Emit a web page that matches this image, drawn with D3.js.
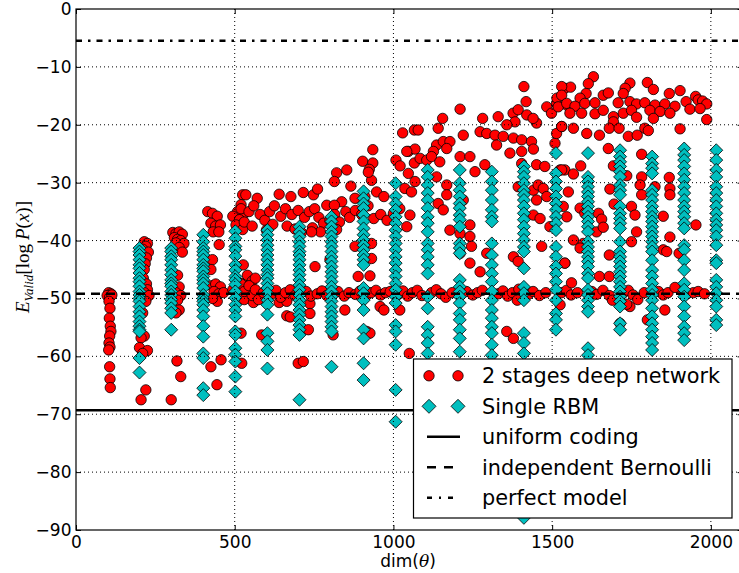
<!DOCTYPE html>
<html>
<head>
<meta charset="utf-8">
<script src="https://cdn.jsdelivr.net/npm/d3@7"></script>
<style>
  html, body { margin: 0; padding: 0; background: #fff; }
  svg { display: block; }
  text { font-family: "DejaVu Sans", sans-serif; }
</style>
</head>
<body>
<div id="chart"></div>
<script>
// reference lines
var uniformCoding = -69.3;
var independentBernoulli = -49.2;
var perfectModel = -5.5;

var xTicks = [0, 500, 1000, 1500, 2000];
var yTicks = [0, -10, -20, -30, -40, -50, -60, -70, -80, -90];

var legendLabels = ['2 stages deep network', 'Single RBM', 'uniform coding', 'independent Bernoulli', 'perfect model'];

// Single RBM: one column of results per dim(theta)
var rbmDims = [200, 300, 401, 502, 603, 704, 805, 906, 1007, 1108, 1209, 1310, 1411, 1512, 1613, 1714, 1815, 1916, 2017];
var rbmVals = [
  [-41.3, -41.9, -42.5, -43.3, -44.2, -44.8, -45.6, -46.5, -47.1, -47.9, -48.8, -49.4, -50, -50.5, -51.4, -52.3, -53.1, -54, -54.8, -55.4, -55.7, -60.3, -62.8],
  [-41.3, -41.9, -42.7, -43.3, -44.2, -45.1, -45.9, -46.8, -47.4, -47.9, -48.8, -49.4, -50.2, -50.8, -51.7, -52.5, -55.4],
  [-39, -40.2, -41.3, -41.9, -42.5, -43.3, -44.2, -44.8, -45.3, -46.2, -46.8, -47.4, -48.2, -49.4, -50, -50.5, -51.1, -52, -53.1, -54.8, -56.6, -59.5, -60.3, -65.5, -66.7],
  [-38.4, -39.6, -41, -41.6, -42.7, -44.2, -45.1, -46.2, -46.8, -47.6, -48.8, -49.9, -51.1, -52, -53.1, -55.7, -56.3, -58.6, -59.7, -60.9, -63.5, -66.1],
  [-38.2, -39, -39.9, -40.8, -41.6, -42.5, -43.3, -44.2, -45.1, -45.9, -46.5, -47.4, -48.2, -49.1, -50.3, -51.1, -52.8, -56, -57.4, -58.9, -62.1],
  [-37.6, -38.5, -39.3, -40.2, -41, -41.9, -42.5, -43.3, -44.2, -45.1, -45.9, -46.8, -47.7, -48.5, -49.4, -50.3, -51.1, -52, -52.8, -53.7, -54.6, -55.4, -56.3, -67.5],
  [-35.9, -36.7, -37.6, -38.5, -39.3, -40.2, -41, -41.9, -42.8, -43.6, -44.5, -45.4, -46.2, -47.1, -48, -48.8, -49.7, -50.5, -51.4, -52.3, -53.1, -54, -54.9, -55.7, -61.8],
  [-31.5, -32.7, -33.6, -34.4, -35.6, -36.7, -37.9, -39, -39.9, -40.8, -41.6, -42.5, -43.3, -44.2, -48.2, -49.1, -50.3, -52, -55.4, -56.9, -61.2, -64.1],
  [-30.1, -32.4, -33.6, -34.7, -35.9, -37, -38.2, -39.3, -40.5, -41.6, -42.8, -43.9, -45.1, -46.2, -47.4, -48.5, -49.7, -50.8, -54.6, -55.7, -58, -65.8, -71.3],
  [-27.8, -29, -30.4, -31.8, -33, -34.4, -35.9, -37, -38.5, -40.5, -41.6, -42.8, -44.2, -45.7, -49.7, -51.7, -54.9, -56.3, -57.7, -59.5],
  [-27.8, -30.1, -31.3, -32.4, -33.6, -34.4, -35.6, -36.4, -37.6, -40.5, -41.3, -42.2, -46.8, -48, -48.8, -49.7, -50.8, -52.6, -53.7, -55.4, -56.9, -59.2],
  [-28.1, -29.8, -31.3, -33, -34.7, -35.9, -36.7, -40.5, -42.5, -44.2, -45.7, -47.1, -48.8, -50.3, -52, -53.4, -54.9, -56, -58, -59.8],
  [-27.2, -28.1, -29, -30.1, -31.3, -32.1, -33, -34.1, -35.3, -36.4, -37.6, -38.8, -39.9, -41.1, -41.9, -44.8, -48, -49.1, -50.3, -56, -57.7, -59.5, -87.9],
  [-24.9, -28.4, -29.8, -31, -32.4, -33.6, -34.7, -35.9, -37, -38.2, -41.1, -42.8, -44.5, -45.7, -47.1, -48.5, -50.3, -52.6, -53.7, -55.4],
  [-24.9, -29, -29.8, -30.7, -31.6, -32.4, -33.3, -34.1, -35, -35.9, -36.7, -37.6, -38.5, -40.2, -41.1, -41.9, -42.8, -43.6, -44.5, -45.7, -46.5, -48.5, -49.4, -50.3, -51.4, -52.3, -58.6, -59.8],
  [-24.4, -25.5, -26.4, -27.2, -28.1, -29, -30.4, -31.3, -32.1, -34.1, -35.3, -36.2, -37, -37.9, -40.2, -41.9, -42.8, -43.6, -44.5, -45.4, -46.2, -47.1, -48, -48.8, -49.7, -50.5, -51.4, -54.3, -55.4],
  [-25.5, -26.7, -27.5, -28.4, -31.3, -32.1, -33, -34.1, -35, -35.9, -36.7, -37.6, -38.5, -39.3, -40.2, -41.1, -41.9, -43.4, -45.1, -46.2, -47.4, -48.5, -49.4, -50.3, -51.7, -53.1, -54.3, -55.4, -56.6, -57.7, -58.9],
  [-24.1, -25.2, -26.1, -27.2, -28.4, -29.5, -30.7, -31.8, -33, -34.1, -35, -35.9, -37, -37.9, -40.8, -41.6, -43.4, -45.1, -47.4, -48.5, -49.7, -51.4, -53.1, -54.9, -56, -57.2],
  [-24.4, -26.1, -27.8, -29, -30.7, -31.8, -33, -34.1, -35.3, -36.4, -37.3, -38.2, -39.3, -40.8, -43.4, -43.9, -46.8, -48, -49.1, -50.3, -51.4, -53.7, -54.6]
];

// 2 stages deep network: [dim(theta), E_valid]
var deepPoints = [
  // ~100
  [103, -49.0], [110, -49.2], [98, -49.5], [106, -49.8], [113, -49.4], [104, -50.5], [107, -51.7], [105, -53.4], [108, -54.8],
  [110, -55.7], [106, -56.5], [104, -57.7], [107, -58.4], [103, -58.9], [106, -61.8], [107, -63.9], [108, -65.4],
  // ~200
  [215, -40.2], [225, -40.5], [220, -41], [210, -41.5], [228, -42], [222, -43], [218, -44], [215, -45], [212, -46.5], [222, -47.5],
  [225, -48.5], [215, -49], [230, -49.5], [220, -50.5], [210, -52.5], [215, -56.5], [205, -56.8], [200, -58.5], [225, -59],
  [210, -59.5], [220, -65.8], [205, -67.5],
  // ~300
  [305, -38.6], [315, -38.8], [325, -38.5], [335, -38.9], [310, -39.5], [320, -39.8], [330, -40], [315, -40.4], [340, -40.5],
  [325, -41.2], [335, -42], [320, -46], [325, -48], [315, -49], [330, -49.5], [320, -50.3], [325, -52], [315, -52.5],
  [318, -60.8], [330, -63.5], [300, -67.5],
  // ~400
  [415, -35], [430, -35.3], [445, -35.8], [425, -37], [440, -37.5], [455, -37.3], [432, -38.5], [450, -38.5], [451, -40.7],
  [430, -43.3], [425, -45], [428, -47.8], [440, -47.5], [455, -48], [435, -48.8], [450, -49.2], [465, -49], [445, -50.5],
  [430, -50], [494, -48.5], [425, -61.8], [457, -60.6], [444, -64.9],
  // ~500
  [525, -32.1], [520, -33.8], [509, -35], [530, -35.3], [494, -35.8], [515, -36.4], [504, -37.3], [525, -38.1],
  [525, -47.4], [515, -48.5], [530, -50.2], [520, -56], [522, -61.2],
  // 500 - 1050
  [935, -24.3], [903, -26.3], [935, -26.6], [853, -27.8], [924, -27.7], [821, -28.3], [866, -30.6], [814, -29.8], [931, -29.6], [921, -28.2],
  [535, -32.1], [571, -32.7], [640, -32], [677, -32.4], [716, -31.7], [748, -32.1], [761, -31.1], [837, -33.3], [879, -32.7],
  [910, -32.4], [947, -31.6], [970, -32.4],
  [520, -34.5], [545, -35], [560, -34], [580, -35.5], [595, -36.5], [610, -35], [625, -34], [645, -35.8], [660, -34.5],
  [680, -35.5], [700, -34.8], [720, -36], [735, -35], [752, -34.5], [765, -36], [780, -37], [790, -33.9], [814, -33.9],
  [530, -36.8], [555, -37.5], [600, -38.2], [620, -37.2], [665, -37.5], [690, -38], [710, -38.6], [745, -37.8], [770, -38.5],
  [800, -36.5], [815, -35.5], [830, -36.8], [850, -35], [862, -36], [880, -34.8], [900, -35.5], [920, -34], [938, -36.2],
  [960, -35.5], [980, -36.5], [1000, -35.3], [1020, -34.5], [742, -38.5], [821, -38.1],
  [527, -44.2], [753, -44.5], [879, -41], [931, -40.5], [931, -43.1], [889, -46.2], [926, -46.1], [800, -43.3],
  [540, -46], [555, -47], [565, -46.5],
  [559, -50.7], [640, -50.7], [664, -50.5], [737, -50.9], [847, -52], [958, -51.4], [970, -52], [664, -53], [675, -53.2],
  [737, -52.6], [732, -55.4], [810, -56.3], [585, -56.3], [700, -61.2], [716, -60.9], [916, -55.7], [926, -56],
  // band near independent Bernoulli
  [520, -47.5], [530, -48.8], [545, -47.8], [555, -49.5], [565, -48.5], [575, -50.2], [590, -49], [615, -49.3], [630, -48.6],
  [645, -49.8], [660, -49], [675, -48.5], [690, -49.5], [705, -49], [725, -48.8], [740, -49.6], [760, -49.2], [775, -48.7],
  [790, -49.5], [810, -49], [825, -48.8], [845, -49.6], [860, -49], [880, -49.3], [895, -48.7], [915, -49.5], [930, -49],
  [945, -48.6], [960, -49.4], [975, -49], [990, -48.8], [1015, -49.3], [1030, -48.7], [1045, -49.6],
  [1060, -49], [1075, -48.6], [1090, -49.5], [1120, -49], [1135, -48.5], [1150, -49.2], [1165, -49.8], [1185, -49],
  [1230, -48.8], [1250, -49.4], [1265, -49], [1280, -48.6], [1330, -49.2], [1345, -48.7], [1360, -49.6], [1375, -49],
  [1390, -50.3], [1395, -48.4], [1425, -49.3], [1440, -48.8], [1460, -49.5], [1480, -49],
  [1530, -49], [1545, -48.6], [1560, -49.4], [1580, -49], [1625, -48.8], [1640, -49.3], [1660, -48.6], [1680, -49.5],
  [1690, -50.3], [1725, -49], [1740, -48.6], [1755, -49.4], [1770, -50.2], [1790, -49], [1835, -48.8], [1850, -49.4],
  [1865, -49], [1905, -48.5], [1925, -49.2], [1945, -49], [1960, -48.8], [1980, -49.2],
  // 1000 - 1550
  [1029, -21.4], [1066, -20.9], [1008, -26.1], [1047, -24.6], [1068, -24.2], [1066, -26.6], [1021, -27.1],
  [1210, -17.3], [1418, -16], [1483, -16.9], [1514, -16.3], [1546, -16.6], [1411, -13.4],
  [1155, -18.9], [1281, -18.9], [1330, -18.6], [1377, -18], [1393, -17.4], [1420, -18.3], [1451, -19.7], [1383, -19.5],
  [1357, -20], [1440, -18.9], [1498, -18], [1530, -20.3],
  [1078, -20.9], [1141, -20.6], [1220, -21.8], [1273, -21.2], [1294, -21.5], [1320, -21.8], [1346, -22], [1378, -22.3],
  [1404, -22.6], [1435, -22.9],
  [1136, -23.5], [1157, -22.9], [1178, -22.9], [1168, -24.1], [1126, -24.6], [1042, -24.6], [1325, -23.5], [1367, -24.9],
  [1404, -24.6], [1441, -24.2], [1509, -23.2], [1514, -21.5],
  [1084, -25.8], [1105, -26.1], [1120, -25.5], [1146, -26.4], [1210, -25.5], [1241, -25.5], [1288, -26.9], [1257, -28.1],
  [1047, -28.4], [1404, -26.7], [1451, -26.9], [1477, -27.2], [1525, -27.8],
  [1068, -29.8], [1036, -31], [1136, -29], [1168, -30.4], [1168, -32.1], [1141, -33.6], [1157, -34.7], [1057, -31.6],
  [1052, -35.6], [1042, -37.6],
  [1393, -30.7], [1441, -31.3], [1456, -30.4], [1472, -31], [1483, -32.4], [1451, -33], [1441, -35.6], [1462, -36.2],
  [1493, -37.6], [1546, -35.9], [1540, -27.8],
  [1178, -38.2], [1210, -38.8], [1241, -37.3], [1241, -39.3], [1220, -33], [1246, -41],
  [1294, -42.2], [1378, -42.8], [1393, -43.6], [1241, -43.9], [1273, -45.4], [1467, -41], [1540, -43.9], [1210, -42.2],
  [1357, -55.7], [1378, -56.9], [1050, -59.5], [1020, -52],
  [1515, -15.4], [1540, -13.7], [1519, -16.9],
  // 1550 - 2000
  [1630, -11.7], [1614, -12.9], [1607, -14.6], [1558, -13.5], [1530, -13.4], [1530, -14.9],
  [1745, -12.8], [1730, -13.7], [1724, -14.6], [1800, -12.7], [1819, -13.9], [1869, -14.6], [1903, -14.1], [1952, -15.1],
  [1661, -14.9], [1677, -14.5], [1588, -15.4], [1546, -16.3], [1572, -16.8], [1603, -16.3], [1635, -16.2], [1708, -16.2],
  [1745, -16], [1766, -16.4], [1792, -16.2], [1824, -16.6], [1855, -16.4], [1887, -16.8], [1922, -16], [1960, -15.7],
  [1974, -15.9], [1987, -16.4], [1934, -17.3], [1966, -17.2],
  [1556, -18], [1593, -18], [1635, -18.1], [1661, -17.5], [1693, -18.6], [1724, -18], [1750, -17.5], [1766, -18.7],
  [1808, -17.5], [1840, -17.7], [1871, -18], [1819, -18.9], [1693, -19.5], [1987, -19.1],
  [1530, -20.3], [1567, -20.6], [1609, -21.5], [1649, -21.8], [1680, -20.6], [1711, -20.6], [1740, -22], [1768, -21.8],
  [1792, -20.6], [1803, -21], [1903, -20.7],
  [1677, -24.1], [1530, -27.8], [1590, -27.1], [1567, -28.5], [1693, -27.1], [1735, -28.8], [1782, -25.1], [1782, -29],
  [1869, -29.1], [1871, -31], [1871, -32.1], [1777, -30.4], [1782, -32.1], [1824, -30.7], [1551, -31.6], [1682, -31.1],
  [1695, -33.7], [1535, -34.1],
  [1588, -34.4], [1603, -35.3], [1646, -35.3], [1656, -36.3], [1640, -38.5], [1661, -37.7], [1750, -34.1], [1761, -35.6],
  [1766, -38.5], [1850, -35.8], [1953, -37.3], [1871, -39.4], [1750, -40.2], [1567, -39.9], [1598, -40.5], [1588, -41.3],
  [1540, -43.9], [1680, -42.5], [1850, -41.6], [1861, -41.9], [1900, -42.2],
  [1649, -46.2], [1680, -46.2], [1561, -47.3], [1887, -48.1],
  [1745, -51.4], [1735, -51], [1855, -52], [1714, -54.3], [1800, -53.7], [1525, -51.1]
];

var W = 739, H = 573;
var x0 = 76, x1 = 742.6, y0 = 9, y1 = 530;

var svg = d3.select('#chart').append('svg')
  .attr('width', W)
  .attr('height', H);

var x = d3.scaleLinear().domain([0, 2100]).range([x0, x1]);
var y = d3.scaleLinear().domain([0, -90]).range([y0, y1]);

var plot = svg.append('g');

plot.append('rect')
  .attr('x', x0).attr('y', y0)
  .attr('width', x1 - x0).attr('height', y1 - y0)
  .attr('fill', '#fff');

var diamond = function(s) {
  return 'M0,' + (-s) + 'L' + s + ',0L0,' + s + 'L' + (-s) + ',0Z';
};

// deep network circles
plot.append('g').selectAll('circle')
  .data(deepPoints)
  .enter().append('circle')
    .attr('cx', function(d) { return x(d[0]); })
    .attr('cy', function(d) { return y(d[1]); })
    .attr('r', 5.2)
    .attr('fill', '#ff0000')
    .attr('stroke', '#000')
    .attr('stroke-width', 0.8);

// RBM diamonds
var rbmPoints = [];
rbmDims.forEach(function(dim, i) {
  rbmVals[i].forEach(function(v) { rbmPoints.push([dim, v]); });
});

plot.append('g').selectAll('path')
  .data(rbmPoints)
  .enter().append('path')
    .attr('d', diamond(6.5))
    .attr('transform', function(d) { return 'translate(' + x(d[0]) + ',' + y(d[1]) + ')'; })
    .attr('fill', '#00bfbf')
    .attr('stroke', '#000')
    .attr('stroke-width', 0.8);

// grid (drawn over markers, like the original)
var grid = plot.append('g')
  .attr('stroke', '#000')
  .attr('stroke-width', 1)
  .attr('stroke-dasharray', '1,3');

grid.selectAll('.gx')
  .data(xTicks.slice(1))
  .enter().append('line')
    .attr('x1', function(d) { return x(d); })
    .attr('x2', function(d) { return x(d); })
    .attr('y1', y0).attr('y2', y1);

grid.selectAll('.gy')
  .data(yTicks.slice(1, -1))
  .enter().append('line')
    .attr('y1', function(d) { return y(d); })
    .attr('y2', function(d) { return y(d); })
    .attr('x1', x0).attr('x2', x1);

// reference lines
plot.append('line')
  .attr('x1', x0).attr('x2', x1)
  .attr('y1', y(uniformCoding)).attr('y2', y(uniformCoding))
  .attr('stroke', '#000').attr('stroke-width', 2.5);

plot.append('line')
  .attr('x1', x0).attr('x2', x1)
  .attr('y1', y(independentBernoulli)).attr('y2', y(independentBernoulli))
  .attr('stroke', '#000').attr('stroke-width', 2.5)
  .attr('stroke-dasharray', '9,6');

plot.append('line')
  .attr('x1', x0).attr('x2', x1)
  .attr('y1', y(perfectModel)).attr('y2', y(perfectModel))
  .attr('stroke', '#000').attr('stroke-width', 2.5)
  .attr('stroke-dasharray', '6,6,2.5,6');

// frame
plot.append('rect')
  .attr('x', x0).attr('y', y0)
  .attr('width', x1 - x0).attr('height', y1 - y0)
  .attr('fill', 'none')
  .attr('stroke', '#000')
  .attr('stroke-width', 1.2);

// axes with inward ticks
var xAxis = d3.axisBottom(x).tickValues(xTicks).tickSizeInner(-5).tickSizeOuter(0).tickPadding(5.5)
  .tickFormat(d3.format('d'));
var xAxisTop = d3.axisTop(x).tickValues(xTicks).tickSizeInner(-5).tickSizeOuter(0).tickFormat('');
var yAxis = d3.axisLeft(y).tickValues(yTicks).tickSizeInner(-5).tickSizeOuter(0).tickPadding(4.5)
  .tickFormat(function(d) { return d < 0 ? '\u2212' + Math.abs(d) : d; });
var yAxisRight = d3.axisRight(y).tickValues(yTicks).tickSizeInner(-5).tickSizeOuter(0).tickFormat('');

function styleAxis(g) {
  g.select('.domain').remove();
  g.selectAll('.tick line').attr('stroke', '#000').attr('stroke-width', 1);
  g.selectAll('.tick text')
    .attr('fill', '#000')
    .style('font-family', '"DejaVu Sans", sans-serif')
    .style('font-size', '17px');
}

svg.append('g').attr('transform', 'translate(0,' + y1 + ')').call(xAxis).call(styleAxis);
svg.append('g').attr('transform', 'translate(0,' + y0 + ')').call(xAxisTop).call(styleAxis);
svg.append('g').attr('transform', 'translate(' + x0 + ',0)').call(yAxis).call(styleAxis);
svg.append('g').attr('transform', 'translate(' + x1 + ',0)').call(yAxisRight).call(styleAxis);

// axis labels
var xl = svg.append('text')
  .attr('x', 408)
  .attr('y', 567)
  .attr('text-anchor', 'middle')
  .style('font-size', '17px');
xl.append('tspan').text('dim(');
xl.append('tspan').style('font-family', '"DejaVu Serif", serif').style('font-style', 'italic').text('\u03b8');
xl.append('tspan').text(')');

var yl = svg.append('text')
  .attr('transform', 'translate(29,257) rotate(-90)')
  .attr('text-anchor', 'middle')
  .style('font-family', '"Liberation Serif", serif')
  .style('font-size', '19px');
yl.append('tspan').style('font-style', 'italic').text('E');
yl.append('tspan').style('font-style', 'italic').style('font-size', '13px').attr('dy', 4).text('Valid');
yl.append('tspan').attr('dy', -4).text('[log');
yl.append('tspan').style('font-style', 'italic').attr('dx', 4).text('P');
yl.append('tspan').text('(');
yl.append('tspan').style('font-style', 'italic').text('x');
yl.append('tspan').text(')]');

// legend
var lg = svg.append('g');
lg.append('rect')
  .attr('x', 413.5).attr('y', 359)
  .attr('width', 318.5).attr('height', 159)
  .attr('fill', '#fff')
  .attr('stroke', '#000')
  .attr('stroke-width', 1.2);

var rowY = function(i) { return 375.8 + i * 30.5; };

lg.selectAll('.lt')
  .data(legendLabels)
  .enter().append('text')
    .attr('x', 482)
    .attr('y', function(d, i) { return rowY(i) + 7.6; })
    .style('font-size', '20.8px')
    .text(function(d) { return d; });

[429, 458].forEach(function(mx) {
  lg.append('circle')
    .attr('cx', mx).attr('cy', rowY(0)).attr('r', 5.2)
    .attr('fill', '#ff0000').attr('stroke', '#000').attr('stroke-width', 0.8);
  lg.append('path')
    .attr('d', diamond(7))
    .attr('transform', 'translate(' + mx + ',' + rowY(1) + ')')
    .attr('fill', '#00bfbf').attr('stroke', '#000').attr('stroke-width', 0.8);
});

var legendDash = [null, '9,8', '5,7,2,7'];
legendDash.forEach(function(dash, i) {
  var l = lg.append('line')
    .attr('x1', 427).attr('x2', 460)
    .attr('y1', rowY(i + 2)).attr('y2', rowY(i + 2))
    .attr('stroke', '#000').attr('stroke-width', 2.5);
  if (dash) l.attr('stroke-dasharray', dash);
});
</script>
</body>
</html>
